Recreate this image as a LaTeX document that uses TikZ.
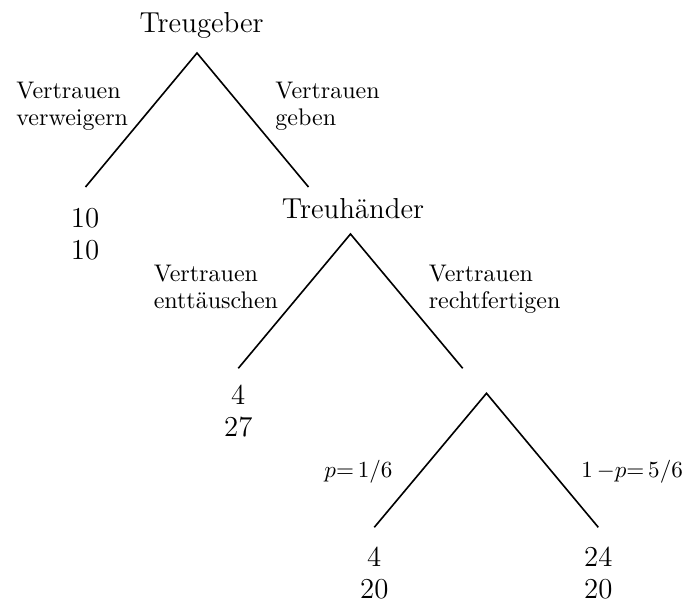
\documentclass[tikz,border=0pt]{standalone}
\usepackage{fontspec}
\begin{document}
\begin{tikzpicture}[x=0.4329pt,y=-0.4329pt,
  branch/.style={line width=0.7pt},
  player/.style={font=\fontsize{12.5}{15}\selectfont, inner sep=0pt, anchor=base},
  payoff/.style={font=\fontsize{12.5}{13.7}\selectfont, inner sep=0pt, align=center, anchor=north},
  move/.style={font=\fontsize{10.4}{11.7}\selectfont, inner sep=0pt, align=left, anchor=north west},
  prob/.style={font=\fontsize{10.4}{11.7}\selectfont, inner sep=0pt, anchor=base west}]
\useasboundingbox (0,0) rectangle (688,602);
% players
\node[player] (treugeber) at (201.7,32.3) {Treugeber};
\node[player] (treuhaender) at (353,218.3) {Treuhänder};
% branch points
\coordinate (a1) at (197,53);
\coordinate (l1) at (85.5,187);
\coordinate (r1) at (308.5,187);
\coordinate (a2) at (350.5,234);
\coordinate (l2) at (238.3,368.3);
\coordinate (r2) at (462.7,368.3);
\coordinate (a3) at (486.5,393.3);
\coordinate (l3) at (374.3,527.3);
\coordinate (r3) at (598.3,527.3);
% branches
\draw[branch] (l1) -- (a1) -- (r1);
\draw[branch] (l2) -- (a2) -- (r2);
\draw[branch] (l3) -- (a3) -- (r3);
% payoffs
\node[payoff] (p1) at (85,208.1) {10\\10};
\node[payoff] (p2) at (238.3,384.7) {4\\27};
\node[payoff] (p3) at (374.3,546.4) {4\\20};
\node[payoff] (p4) at (598.3,546.4) {24\\20};
% move labels
\node[move] (m1) at (16,81.9) {Vertrauen\\verweigern};
\node[move] (m2) at (275,81.9) {Vertrauen\\geben};
\node[move] (m3) at (153.3,264.6) {Vertrauen\\enttäuschen};
\node[move] (m4) at (428.3,264.6) {Vertrauen\\rechtfertigen};
% probabilities
\node[prob] (q1) at (324,477.3) {$p{=}\,1/6$};
\node[prob] (q2) at (581,477) {$1\,{-}p{=}\,5/6$};
\end{tikzpicture}
\end{document}
